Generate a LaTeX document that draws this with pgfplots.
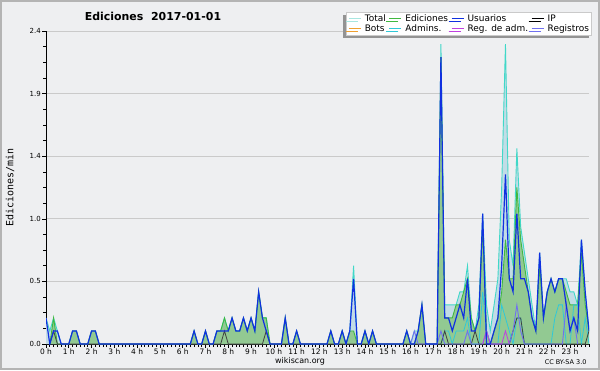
\documentclass[border=0pt]{standalone}
\usepackage{fontspec}
\setmainfont{DejaVu Sans}
\newfontfamily\monofont{DejaVu Sans Mono}
\usepackage{pgfplots}
\usepackage{pgfplotstable}
\pgfplotsset{compat=1.18}
\usetikzlibrary{shadows}
\definecolor{bg}{HTML}{EEEFF1}
\definecolor{framec}{HTML}{B4B4B4}
\definecolor{gridc}{HTML}{CACACA}
\definecolor{totfill}{HTML}{C2DCE6}
\definecolor{totline}{HTML}{40D8C8}
\definecolor{totleg}{HTML}{A8E6E0}
\definecolor{edfill}{HTML}{92C992}
\definecolor{edline}{HTML}{40B840}
\definecolor{usr}{HTML}{1030E0}
\definecolor{ipc}{HTML}{404040}
\definecolor{bots}{HTML}{F0A030}
\definecolor{adm}{HTML}{30C8D8}
\definecolor{regadm}{HTML}{C040E0}
\definecolor{reg}{HTML}{7070F0}

% index i = 10-minute slot of the day (0..143), v = edits per minute
\pgfplotstableread{
i v
0 0.2
1 0.1
2 0.2
3 0.1
4 0
6 0
7 0.1
8 0.1
9 0
11 0
12 0.1
13 0.1
14 0
38 0
39 0.1
40 0
41 0
42 0.1
43 0
44 0
45 0.1
46 0.1
47 0.2
48 0.1
49 0.2
50 0.1
51 0.1
52 0.2
53 0.1
54 0.2
55 0.1
56 0.4
57 0.2
58 0.2
59 0
62 0
63 0.2
64 0
65 0
66 0.1
67 0
74 0
75 0.1
76 0
77 0
78 0.1
79 0
80 0.1
81 0.6
82 0
83 0
84 0.1
85 0
86 0.1
87 0
94 0
95 0.1
96 0
97 0.1
98 0.1
99 0.3
100 0
103 0
104 2.3
105 0.3
106 0.3
107 0.3
108 0.3
109 0.4
110 0.4
111 0.6
112 0.2
113 0.1
114 0.3
115 1.0
116 0.3
117 0.1
118 0.3
119 0.5
120 1.2
121 2.3
122 0.8
123 0.6
124 1.5
125 0.9
126 0.7
127 0.5
128 0.3
129 0.1
130 0.7
131 0.2
132 0.4
133 0.5
134 0.4
135 0.5
136 0.5
137 0.5
138 0.4
139 0.4
140 0.3
141 0.8
142 0.4
143 0.1
}\total

\pgfplotstableread{
i v
1 0
2 0.2
3 0
6 0
7 0.1
8 0.1
9 0
11 0
12 0.1
13 0.1
14 0
38 0
39 0.1
40 0
41 0
42 0.1
43 0
44 0
45 0.1
46 0.1
47 0.2
48 0.1
49 0.2
50 0.1
51 0.1
52 0.2
53 0.1
54 0.2
55 0.1
56 0.4
57 0.2
58 0.2
59 0
62 0
63 0.2
64 0
65 0
66 0.1
67 0
74 0
75 0.1
76 0
77 0
78 0.1
79 0
80 0.1
81 0.1
82 0
83 0
84 0.1
85 0
86 0.1
87 0
94 0
95 0.1
96 0
97 0
98 0.1
99 0.3
100 0
103 0
104 2.2
105 0.2
106 0.2
107 0.2
108 0.3
109 0.3
110 0.4
111 0.5
112 0.2
113 0.1
114 0.2
115 0.9
116 0.1
117 0
118 0.1
119 0.2
120 0.4
121 0.8
122 0.5
123 0.5
124 1.2
125 0.8
126 0.6
127 0.4
128 0.2
129 0.1
130 0.6
131 0.2
132 0.4
133 0.5
134 0.4
135 0.5
136 0.5
137 0.4
138 0.3
139 0.3
140 0.3
141 0.7
142 0.3
143 0.1
}\edic

\pgfplotstableread{
i v
0 0.2
1 0
2 0.1
3 0.1
4 0
6 0
7 0.1
8 0.1
9 0
11 0
12 0.1
13 0.1
14 0
38 0
39 0.1
40 0
41 0
42 0.1
43 0
44 0
45 0.1
46 0.1
47 0.1
48 0.1
49 0.2
50 0.1
51 0.1
52 0.2
53 0.1
54 0.2
55 0.1
56 0.4
57 0.2
58 0.1
59 0
62 0
63 0.2
64 0
65 0
66 0.1
67 0
74 0
75 0.1
76 0
77 0
78 0.1
79 0
80 0.1
81 0.5
82 0
83 0
84 0.1
85 0
86 0.1
87 0
94 0
95 0.1
96 0
97 0
98 0.1
99 0.3
100 0
103 0
104 2.2
105 0.2
106 0.2
107 0.1
108 0.2
109 0.3
110 0.2
111 0.5
112 0.1
113 0.1
114 0.2
115 1.0
116 0
117 0
118 0.1
119 0.2
120 0.6
121 1.3
122 0.5
123 0.4
124 1.0
125 0.5
126 0.5
127 0.4
128 0.2
129 0.1
130 0.7
131 0.2
132 0.4
133 0.5
134 0.4
135 0.5
136 0.5
137 0.3
138 0.1
139 0.2
140 0.1
141 0.8
142 0.4
143 0.1
}\usuarios

\pgfplotstableread{
i v
1 0
2 0.1
3 0
46 0
47 0.1
48 0
57 0
58 0.1
59 0
104 0
105 0.1
106 0
112 0
113 0.1
114 0
122 0
123 0.1
124 0.2
125 0.2
126 0
142 0
143 0.1
}\ip

\pgfplotstableread{
i v
104 0
105 0.1
106 0.1
107 0
108 0.1
109 0.1
110 0.1
111 0.2
112 0
114 0
115 0.4
116 0.1
117 0
119 0
120 0.3
121 0.2
122 0.1
123 0
124 0.2
125 0.2
126 0
133 0
134 0.2
135 0.3
136 0.3
137 0
138 0
139 0.3
140 0.3
141 0
142 0.2
143 0
}\admins

\pgfplotstableread{
i v
96 0
97 0.1
98 0
103 0
104 0.1
105 0
110 0
111 0.1
112 0
115 0
116 0.1
117 0
122 0
123 0.1
124 0.3
125 0.1
126 0
136 0
137 0.3
138 0.1
139 0.2
140 0
}\registros

\pgfplotstableread{
i v
115 0
116 0.1
117 0
120 0
121 0.1
122 0
}\regadm

\begin{document}
\begin{tikzpicture}[x=1bp,y=1bp]
\path[use as bounding box] (0,0) rectangle (600,370);
\fill[bg] (0,0) rectangle (600,370);
\draw[framec, line width=2bp] (1,1) rectangle (599,369);
\begin{axis}[
  at={(46bp,26bp)}, anchor=south west,
  scale only axis, width=543bp, height=313bp,
  xmin=0, xmax=143, ymin=0, ymax=2.4,
  axis lines*=left,
  axis line style={black, line width=0.8bp},
  xtick={0,6,...,138},
  xticklabels={0 h,1 h,2 h,3 h,4 h,5 h,6 h,7 h,8 h,9 h,10 h,11 h,12 h,13 h,14 h,15 h,16 h,17 h,18 h,19 h,20 h,21 h,22 h,23 h},
  minor xtick={0,1,...,143},
  ytick={0,0.48,0.96,1.44,1.92,2.4},
  yticklabels={0.0,0.5,1.0,1.4,1.9,2.4},
  minor ytick={0.12,0.24,0.36,0.6,0.72,0.84,1.08,1.2,1.32,1.56,1.68,1.8,2.04,2.16,2.28},
  tick align=outside,
  major tick length=4bp, minor tick length=3bp,
  tick style={black, line width=0.6bp},
  ymajorgrids, grid style={gridc, line width=0.8bp},
  /pgf/number format/assume math mode=true,
  x tick label style={font=\fontsize{7.5}{8}\selectfont, inner sep=1bp},
  y tick label style={font=\fontsize{7}{8}\selectfont, inner sep=1bp},
  every axis title shift=0pt,
  title={Ediciones\ \ 2017-01-01},
  title style={at={(axis description cs:0.197,1.048)}, anchor=center,
               font=\bfseries\fontsize{11}{12}\selectfont},
  ylabel={Ediciones/min},
  ylabel style={at={(axis description cs:-0.066,0.5)}, anchor=center,
                font=\monofont\fontsize{10}{11}\selectfont},
  legend columns=4,
  legend cell align=left,
  legend image code/.code={\draw[#1, line width=0.9bp] (0bp,0bp) -- (12bp,0bp);},
  legend style={at={(axis description cs:0.5525,1.0607)}, anchor=north west,
    fill=white, draw=gridc, line width=0.6bp,
    font=\fontsize{9}{10}\selectfont,
    inner xsep=2bp, inner ysep=1.5bp,
    general shadow={shadow xshift=-3bp, shadow yshift=-3bp, fill=gray!85},
    nodes={inner sep=0.6bp, text height=6.8bp, text depth=2bp},
    /tikz/every even column/.append style={column sep=2.5bp},
    /tikz/every odd column/.append style={column sep=3bp}},
]
\addlegendimage{totleg}\addlegendentry{Total}
\addlegendimage{edline}\addlegendentry{Ediciones}
\addlegendimage{usr}\addlegendentry{Usuarios}
\addlegendimage{black}\addlegendentry{IP}
\addlegendimage{bots}\addlegendentry{Bots}
\addlegendimage{adm}\addlegendentry{Admins.}
\addlegendimage{regadm}\addlegendentry{Reg. de adm.}
\addlegendimage{reg}\addlegendentry{Registros}

\addplot[forget plot, fill=totfill, draw=none] table[x=i,y=v] {\total} \closedcycle;
\addplot[forget plot, fill=edfill, draw=none] table[x=i,y=v] {\edic} \closedcycle;
\addplot[forget plot, totline, line width=0.9bp] table[x=i,y=v] {\total};
\addplot[forget plot, edline, line width=0.9bp] table[x=i,y=v] {\edic};
\addplot[forget plot, adm, line width=0.8bp] table[x=i,y=v] {\admins};
\addplot[forget plot, ipc, line width=0.8bp] table[x=i,y=v] {\ip};
\addplot[forget plot, reg, line width=0.9bp] table[x=i,y=v] {\registros};
\addplot[forget plot, regadm, line width=0.8bp] table[x=i,y=v] {\regadm};
\addplot[forget plot, usr, line width=1.2bp] table[x=i,y=v] {\usuarios};
\end{axis}
\node[font=\fontsize{8}{9}\selectfont] at (300,8.5) {wikiscan.org};
\node[anchor=east, font=\fontsize{6.5}{7}\selectfont] at (590,7.5) {CC BY-SA 3.0};
\end{tikzpicture}
\end{document}
